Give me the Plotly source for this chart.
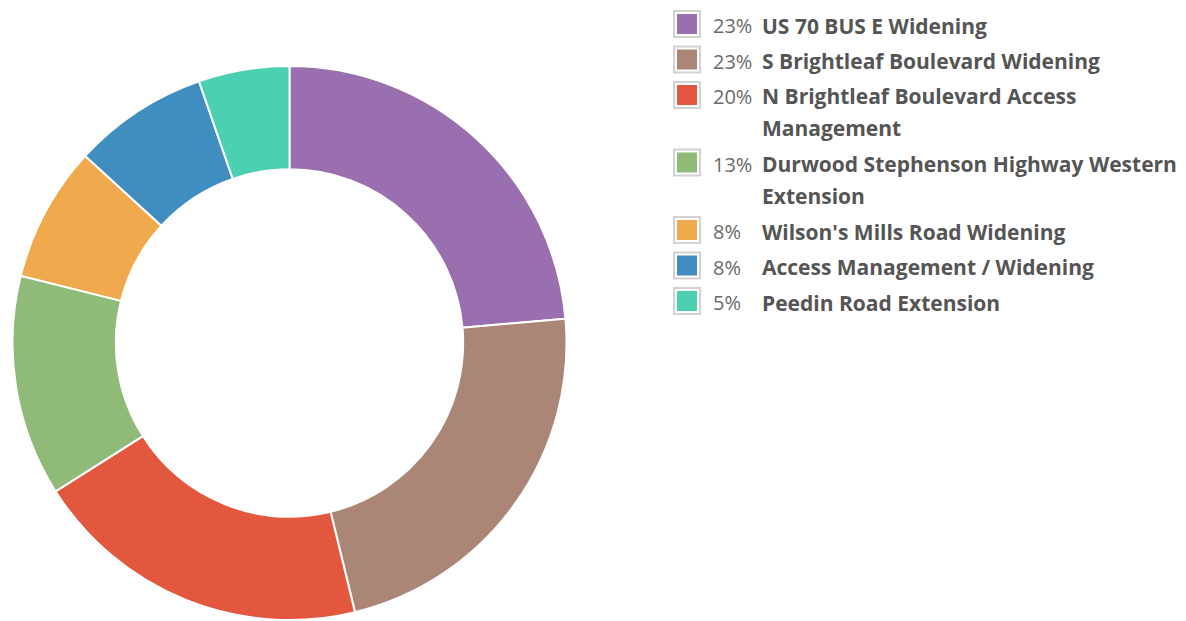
import textwrap
import plotly.graph_objects as go

# ---- data ----
projects = [
    "US 70 BUS E Widening",
    "S Brightleaf Boulevard Widening",
    "N Brightleaf Boulevard Access Management",
    "Durwood Stephenson Highway Western Extension",
    "Wilson's Mills Road Widening",
    "Access Management / Widening",
    "Peedin Road Extension",
]
shares = [23.6, 22.6, 19.8, 12.9, 7.9, 7.9, 5.3]
pct_labels = ["23%", "23%", "20%", "13%", "8%", "8%", "5%"]
colors = ["#9a6fb0", "#ab8677", "#e4573f", "#8fba78", "#f0a94d", "#3f8ebf", "#4bd1b1"]

W, H = 1186, 621
OFF = 8  # page body margin


def px(p):
    return (p - OFF) / W


def py(p):
    return 1 - (p - OFF) / H


fig = go.Figure()
cx, cy, r = 289.5, 343.0, 277.0
fig.add_trace(go.Pie(
    labels=projects,
    values=shares,
    sort=False,
    direction="clockwise",
    rotation=0,
    hole=0.627,
    textinfo="none",
    marker=dict(colors=colors, line=dict(color="white", width=2)),
    domain=dict(x=[px(cx - r), px(cx + r)], y=[py(cy + r), py(cy - r)]),
    showlegend=False,
))

# ---- custom legend ----
shapes = []
annotations = []
ypos = 24.0
for name, pct, col in zip(projects, pct_labels, colors):
    lines = textwrap.wrap(name, 34)
    shapes.append(dict(type="rect", xref="paper", yref="paper",
                       x0=px(674), x1=px(700), y0=py(ypos + 13), y1=py(ypos - 13),
                       line=dict(color="#d2d2d2", width=2), fillcolor="white", layer="above"))
    shapes.append(dict(type="rect", xref="paper", yref="paper",
                       x0=px(677), x1=px(697), y0=py(ypos + 10), y1=py(ypos - 10),
                       line=dict(width=0), fillcolor=col, layer="above"))
    annotations.append(dict(x=px(711), y=py(ypos + 1.5), xref="paper", yref="paper",
                            xanchor="left", yanchor="middle", showarrow=False,
                            text=pct, font=dict(family="Open Sans", size=20, color="#6a6a6a")))
    for i, ln in enumerate(lines):
        annotations.append(dict(x=px(760), y=py(ypos + 1.5 + 32 * i), xref="paper", yref="paper",
                                xanchor="left", yanchor="middle", showarrow=False,
                                text="<b>" + ln + "</b>",
                                font=dict(family="Open Sans", size=21, color="#555555")))
    ypos += 35.5 + 32 * (len(lines) - 1)

fig.update_layout(
    width=W, height=H,
    margin=dict(l=0, r=0, t=0, b=0),
    paper_bgcolor="white", plot_bgcolor="white",
    shapes=shapes, annotations=annotations,
    showlegend=False,
)

fig.write_html("out.html")
